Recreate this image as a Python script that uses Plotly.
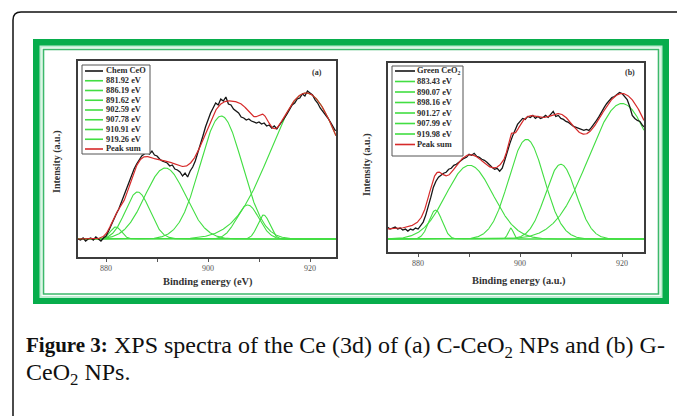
import numpy as np
import plotly.graph_objects as go

W, H = 677, 416

# ---------------- Panel (a): chemically prepared CeO2 ----------------
energy_start_a, energy_step_a = 874.5, 0.5
intensity_a = [
    0, -1, 1, -2, 0, 1, -1, 2, 0, -2,
    1, 3, 8, 14, 20, 25, 30, 37, 43, 50,
    58, 64, 70, 75, 79, 83, 85, 87, 85, 88,
    84, 83, 80, 78, 77, 76, 73, 74, 70, 69,
    67, 63, 66, 62, 68, 72, 78, 86, 93, 103,
    112, 120, 126, 131, 136, 134, 140, 138, 142, 135,
    134, 130, 128, 126, 122, 121, 119, 120, 118, 117,
    116, 117, 115, 116, 113, 114, 111, 113, 110, 114,
    117, 121, 125, 130, 134, 136, 140, 141, 145, 143,
    148, 146, 144, 139, 136, 131, 128, 124, 121, 117,
    113, 108,
]
peak_center_a = [881.92, 886.19, 891.62, 902.59, 907.78, 910.91, 919.26]
peak_height_a = [12, 47, 71, 123, 34, 24, 146]
peak_fwhm_a = [2.6, 5.6, 9.4, 9.7, 5.2, 2.8, 16.5]
background_a = 0

# ---------------- Panel (b): green synthesised CeO2 ----------------
energy_start_b, energy_step_b = 874.0, 0.5
intensity_b = [
    12, 10, 11, 12, 10, 11, 9, 10, 8, 10,
    9, 11, 10, 13, 17, 24, 32, 42, 52, 58,
    62, 64, 66, 67, 70, 71, 74, 75, 77, 79,
    81, 82, 85, 84, 86, 83, 82, 80, 79, 77,
    74, 72, 70, 71, 68, 71, 79, 88, 96, 103,
    110, 115, 118, 121, 120, 123, 122, 124, 121, 123,
    121, 122, 124, 122, 125, 128, 123, 124, 121, 120,
    118, 117, 115, 113, 112, 111, 110, 109, 110, 109,
    112, 115, 119, 123, 128, 132, 136, 139, 142, 143,
    145, 147, 146, 143, 140, 133, 124, 121, 119, 118,
    114, 112,
]
peak_center_b = [883.43, 890.07, 898.16, 901.27, 907.99, 919.98]
peak_height_b = [29, 74, 11, 100, 75, 136]
peak_fwhm_b = [3.1, 10.8, 1.2, 8.2, 7.1, 15.3]
background_b = 10

x_ticks = [880, 900, 920]
x_minor_ticks = [890, 910]

BLACK = "#161616"
GREEN = "#42de42"
RED = "#d62a2a"
FRAME = "#3c3c3c"
SERIF = "Liberation Serif"


def px(x):
    return x / W


def py(y):
    return 1 - y / H


def gaussian(e, center, height, fwhm):
    return height * np.exp(-4 * np.log(2) * (e - center) ** 2 / fwhm ** 2)


fig = go.Figure()


def add_panel(xref, yref, e_start, e_step, intensity, centers, heights, fwhms, bg, e_lo, e_hi):
    e_data = e_start + e_step * np.arange(len(intensity))
    e_fit = np.linspace(e_lo, e_hi, 700)
    total = np.full_like(e_fit, float(bg))
    for c, h, w in zip(centers, heights, fwhms):
        comp = gaussian(e_fit, c, h, w)
        total += comp
        fig.add_trace(go.Scatter(x=e_fit, y=comp, mode="lines", xaxis=xref, yaxis=yref,
                                 line=dict(color=GREEN, width=1.1), hoverinfo="skip"))
    fig.add_trace(go.Scatter(x=e_data, y=intensity, mode="lines", xaxis=xref, yaxis=yref,
                             line=dict(color=BLACK, width=1.3), hoverinfo="skip"))
    fig.add_trace(go.Scatter(x=e_fit, y=total, mode="lines", xaxis=xref, yaxis=yref,
                             line=dict(color=RED, width=1.2), hoverinfo="skip"))


add_panel("x", "y", energy_start_a, energy_step_a, intensity_a,
          peak_center_a, peak_height_a, peak_fwhm_a, background_a, 874.5, 925.1)
add_panel("x2", "y2", energy_start_b, energy_step_b, intensity_b,
          peak_center_b, peak_height_b, peak_fwhm_b, background_b, 874.1, 924.3)

xaxis_style = dict(showline=True, mirror=True, linecolor=FRAME, linewidth=1.5,
                   showgrid=False, zeroline=False, ticks="outside", ticklen=3,
                   tickwidth=1, tickcolor="#555", tickmode="array", tickvals=x_ticks,
                   minor=dict(tickmode="array", tickvals=x_minor_ticks, ticks="outside",
                              ticklen=3, tickwidth=1, tickcolor="#555", showgrid=False),
                   tickfont=dict(family=SERIF, size=8, color="#555"))
yaxis_style = dict(showline=True, mirror=True, linecolor=FRAME, linewidth=1.5,
                   showgrid=False, zeroline=False, showticklabels=False, ticks="")

shapes = []
# rounded page border (open towards right and bottom)
r = 8
shapes.append(dict(
    type="path", xref="paper", yref="paper", layer="below",
    path=(f"M {px(13)},{py(430)} L {px(13)},{py(12 + r)} "
          f"Q {px(13)},{py(12)} {px(13 + r)},{py(12)} L {px(690)},{py(12)}"),
    line=dict(color="#111", width=1.5)))
# green picture frame
shapes.append(dict(type="rect", xref="paper", yref="paper", layer="below",
                   x0=px(33), x1=px(669), y0=py(304), y1=py(39),
                   fillcolor="#07ad4c", line=dict(width=0)))
shapes.append(dict(type="rect", xref="paper", yref="paper", layer="below",
                   x0=px(39.5), x1=px(662.5), y0=py(298), y1=py(45.5),
                   fillcolor="#bdeed1", line=dict(width=0)))
shapes.append(dict(type="rect", xref="paper", yref="paper", layer="below",
                   x0=px(41.5), x1=px(660.5), y0=py(296), y1=py(47.5),
                   fillcolor="#fbfefc", line=dict(width=0)))
shapes.append(dict(type="rect", xref="paper", yref="paper", layer="below",
                   x0=px(43.5), x1=px(658.5), y0=py(294), y1=py(49.5),
                   fillcolor="white", line=dict(color="#3cb96b", width=1.6)))

annotations = []


def add_legend(box, first_y, dy, line_x, text_x, labels, colors):
    x0, y0, x1, y1 = box
    shapes.append(dict(type="rect", xref="paper", yref="paper", layer="above",
                       x0=px(x0), x1=px(x1), y0=py(y1), y1=py(y0),
                       fillcolor="white", line=dict(color="#555", width=1)))
    for i, (lab, col) in enumerate(zip(labels, colors)):
        yy = first_y + i * dy
        shapes.append(dict(type="line", xref="paper", yref="paper", layer="above",
                           x0=px(line_x[0]), x1=px(line_x[1]), y0=py(yy), y1=py(yy),
                           line=dict(color=col, width=1.6)))
        annotations.append(dict(x=px(text_x), y=py(yy), xref="paper", yref="paper",
                                xanchor="left", yanchor="middle", showarrow=False,
                                text=f"<b>{lab}</b>", borderpad=0,
                                font=dict(family=SERIF, size=8.4, color="#2a2a2a")))


labels_a = ["Chem CeO"] + [f"{c:.2f} eV" for c in peak_center_a] + ["Peak sum"]
colors_a = [BLACK] + [GREEN] * len(peak_center_a) + [RED]
add_legend((82, 65, 150, 154), 71, 9.75, (85, 103), 104.5, labels_a, colors_a)

labels_b = ["Green CeO<sub>2</sub>"] + [f"{c:.2f} eV" for c in peak_center_b] + ["Peak sum"]
colors_b = [BLACK] + [GREEN] * len(peak_center_b) + [RED]
add_legend((392, 66, 463, 156), 71, 10.5, (395, 415), 415.5, labels_b, colors_b)


def label(x, y, text, size, angle=0, anchor="center", family=SERIF, color="#333"):
    annotations.append(dict(x=px(x), y=py(y), xref="paper", yref="paper",
                            xanchor=anchor, yanchor="middle", showarrow=False,
                            text=text, textangle=angle, borderpad=0,
                            font=dict(family=family, size=size, color=color)))


label(317, 73, "<b>(a)</b>", 8)
label(630, 73, "<b>(b)</b>", 8)
label(207.5, 282, "<b>Binding energy (eV)</b>", 10.4)
label(519, 281, "<b>Binding energy (a.u.)</b>", 10.4)
label(57, 162, "<b>Intensity (a.u.)</b>", 10, angle=-90)
label(367, 164, "<b>Intensity (a.u.)</b>", 10, angle=-90)

# figure caption
label(25, 345, "<b>Figure 3:</b>", 21, anchor="left", color="#111")
label(113, 346.5, "XPS spectra of the Ce (3d) of (a) C-CeO<sub>2</sub> NPs and (b) G-",
      24, anchor="left", color="#111")
label(25, 374, "CeO<sub>2</sub> NPs.", 24, anchor="left", color="#111")

fig.update_layout(
    width=W, height=H, margin=dict(l=0, r=0, t=0, b=0),
    paper_bgcolor="white", plot_bgcolor="white", showlegend=False,
    xaxis=dict(domain=[px(78), px(336)], range=[874.5, 925.1], anchor="y", **xaxis_style),
    yaxis=dict(domain=[py(257), py(61)], range=[-18, 178], anchor="x", **yaxis_style),
    xaxis2=dict(domain=[px(388), px(644)], range=[874.1, 924.3], anchor="y2", **xaxis_style),
    yaxis2=dict(domain=[py(252), py(63)], range=[-13, 176.6], anchor="x2", **yaxis_style),
    shapes=shapes, annotations=annotations,
)

fig.write_html("out.html")
